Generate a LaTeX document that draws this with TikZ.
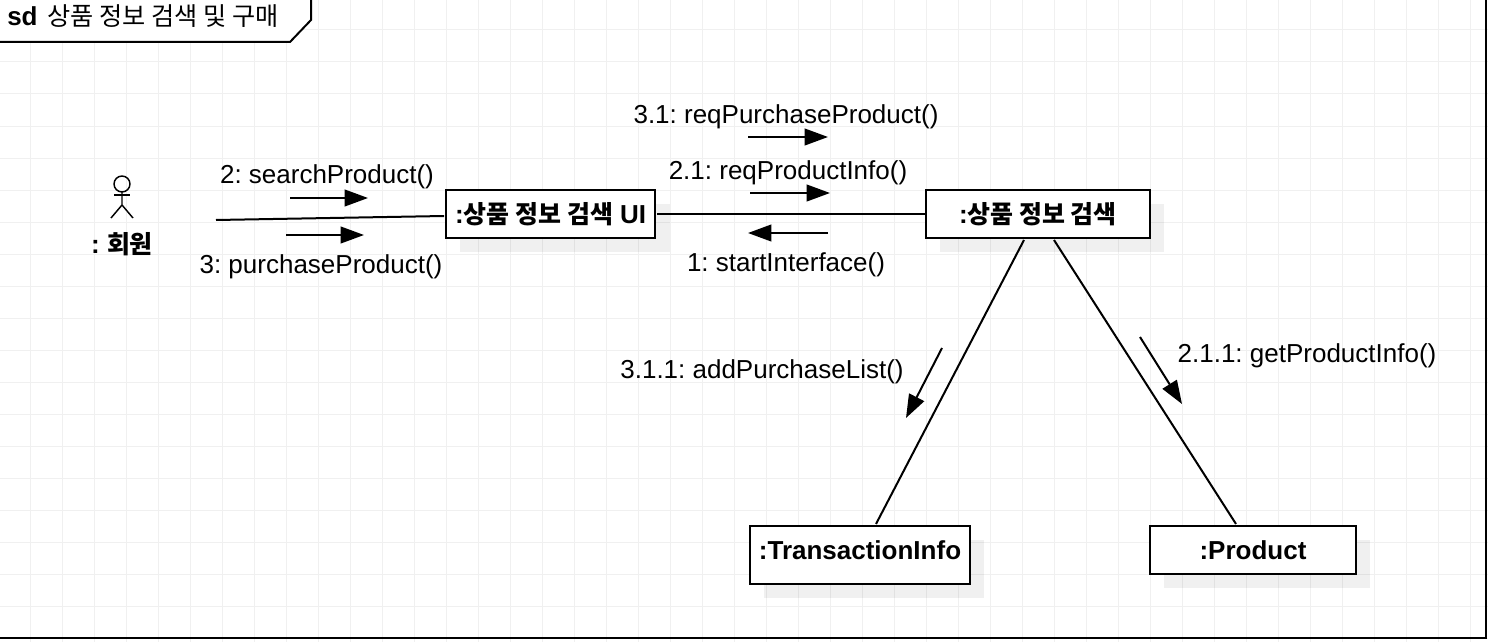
\documentclass[tikz,border=0pt]{standalone}
\usepackage{fontspec}
\setmainfont{Liberation Sans}
\newfontfamily\krfont{Noto Sans CJK KR}
\usetikzlibrary{arrows.meta}
\definecolor{gridcol}{HTML}{F0F0F0}
\frenchspacing
\newcommand{\krbold}[1]{{\krfont\bfseries\fontsize{18.7}{23}\selectfont #1}}
\tikzset{
  mytext/.style={inner sep=0mm, font=\fontsize{19.5}{23}\selectfont, text height=17.5pt, text depth=4pt},
  mybox/.style={
    draw, rectangle, fill=white, line width=1.5pt, inner sep=0mm,
    font=\fontsize{19.5}{23}\selectfont\bfseries
  },
  myshadow/.style={fill=black, fill opacity=0.06, draw=none},
  mylink/.style={line width=1.5pt},
  mymsg/.style={-{Triangle[length=17.5pt,width=12.5pt]}, line width=1.5pt},
  gridline/.style={gridcol, line width=0.75pt}
}
\begin{document}
\begin{tikzpicture}[x=0.75pt,y=-0.75pt]
   \useasboundingbox (0,0) rectangle (1488,642);
   % grid
   \foreach \i in {0,...,45} \draw[gridline] ({30.5+32*\i},0) -- ({30.5+32*\i},642);
   \foreach \i in {0,...,19} \draw[gridline] (0,{30+32*\i}) -- (1488,{30+32*\i});

   % frame
   \draw[mylink] (-5,-5) rectangle (1486,638);
   \draw[mylink,fill=white] (-5,-5) -- (311,-5) -- (311,20) -- (290,42) -- (-5,42) -- cycle;
   \node[mytext, anchor=west] (sdtag) at (7,17) {\textbf{sd}\hspace{7.5pt}{\krfont\fontsize{18.9}{23}\selectfont 상품 정보 검색 및 구매}};

   % shadows
   \fill[myshadow] (460,204) rectangle (670,252);
   \fill[myshadow] (940,204) rectangle (1164,252);
   \fill[myshadow] (764,540) rectangle (984,598);
   \fill[myshadow] (1164,540) rectangle (1370,588);

   % objects
   \node[mybox, minimum width=157pt, minimum height=36pt] (ui) at (550.7,214) {:\krbold{상품 정보 검색} UI};
   \node[mybox, minimum width=168pt, minimum height=36pt] (srch) at (1038,214) {:\krbold{상품 정보 검색}};
   \node[mybox, minimum width=165pt, text height=25pt, text depth=18.5pt] (tinfo) at (860,555) {:TransactionInfo};
   \node[mybox, minimum width=154.5pt, minimum height=36pt] (prod) at (1253,550) {:Product};

   % actor
   \draw[line width=1.1pt] (122,184) circle (8);
   \coordinate (neck) at (122,192);
   \coordinate (hip) at (122,205);
   \draw[line width=1.1pt] (neck) -- (hip) -- (111,218);
   \draw[line width=1.1pt] (hip) -- (133,218);
   \draw[line width=1.1pt] (114,195) -- (130,195);
   \node[mytext, font=\fontsize{19.5}{23}\selectfont\bfseries] (member) at (122,244) {: \krbold{회원}};

   % links
   \coordinate (actorend) at (216,220);
   \draw[mylink] (actorend) -- ([xshift=-0.75pt,yshift=-1.5pt]ui.west);
   \draw[mylink] ([xshift=0.75pt]ui.east) -- (srch.west);
   \draw[mylink] ([xshift=-10.5pt,yshift=-0.75pt]srch.south) -- ([xshift=12pt,yshift=0.75pt]tinfo.north);
   \draw[mylink] ([xshift=12pt,yshift=-0.75pt]srch.south) -- ([xshift=-12.75pt,yshift=0.75pt]prod.north);

   % messages
   \coordinate (m31a) at (748,137);  \coordinate (m31b) at (828,137);
   \coordinate (m21a) at (750,193);  \coordinate (m21b) at (830,193);
   \coordinate (m1a) at (828,233);   \coordinate (m1b) at (748,233);
   \coordinate (m2a) at (290,198);   \coordinate (m2b) at (368,198);
   \coordinate (m3a) at (286,235);   \coordinate (m3b) at (364,235);
   \coordinate (m311a) at (942,348); \coordinate (m311b) at (906,418);
   \coordinate (m211a) at (1140,337); \coordinate (m211b) at (1182,404);
   \draw[mymsg] (m31a) -- (m31b);
   \draw[mymsg] (m21a) -- (m21b);
   \draw[mymsg] (m1a) -- (m1b);
   \draw[mymsg] (m2a) -- (m2b);
   \draw[mymsg] (m3a) -- (m3b);
   \draw[mymsg] (m311a) -- (m311b);
   \draw[mymsg] (m211a) -- (m211b);

   % labels
   \node[mytext] (l31) at (786,114) {3.1: reqPurchaseProduct()};
   \node[mytext] (l21) at (788,170) {2.1: reqProductInfo()};
   \node[mytext] (l1) at (786,262) {1: startInterface()};
   \node[mytext] (l2) at (327,174) {2: searchProduct()};
   \node[mytext] (l3) at (321,264) {3: purchaseProduct()};
   \node[mytext] (l311) at (762,369) {3.1.1: addPurchaseList()};
   \node[mytext] (l211) at (1307,353) {2.1.1: getProductInfo()};
\end{tikzpicture}
\end{document}
